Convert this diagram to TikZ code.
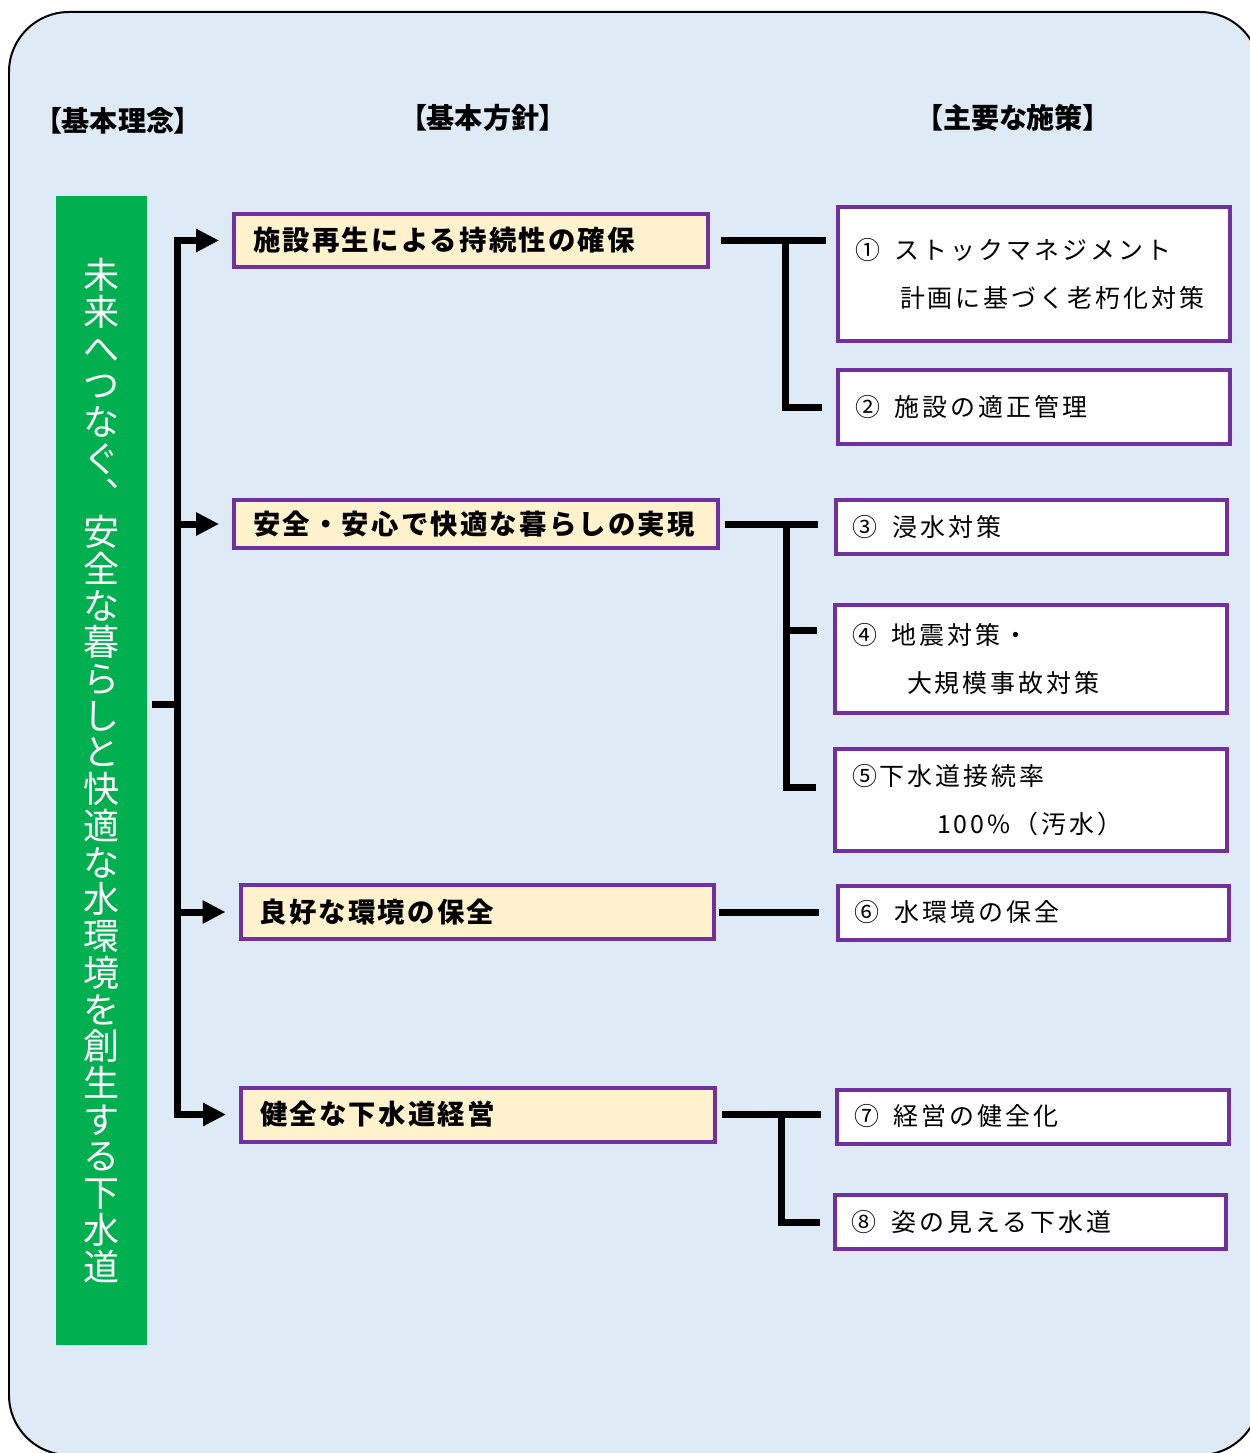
\documentclass[tikz,border=0pt]{standalone}
\usepackage{fontspec}
\setmainfont{Noto Sans CJK JP}
\usetikzlibrary{arrows.meta, calc}
\definecolor{panel}{HTML}{DEEAF6}
\definecolor{leaf}{HTML}{00B050}
\definecolor{cream}{HTML}{FFF2CC}
\definecolor{frame}{HTML}{7030A0}
\newcommand{\hdfont}{\bfseries\fontsize{16}{18}\selectfont\addfontfeatures{RawFeature=+palt}}
\newcommand{\polfont}{\bfseries\fontsize{15.6}{18}\selectfont\addfontfeatures{LetterSpace=8}}
\newcommand{\mesfont}{\fontsize{14.2}{27.3}\selectfont\addfontfeatures{LetterSpace=12}}
\newcommand{\ideafont}{\fontsize{20.5}{20.9}\selectfont}
\newcommand{\numgap}{\hspace{0.3cm}}

\begin{document}
\begin{tikzpicture}[x=0.02cm, y=-0.02cm,
    hd/.style={font=\hdfont, inner sep=0},
    idea/.style={fill=leaf, text=white, font=\ideafont, align=center, minimum width=1.82cm, minimum height=22.98cm, inner sep=0},
    policy/.style={draw=frame, line width=0.08cm, fill=cream, font=\polfont, align=left, text width=8.72cm, inner xsep=0.38cm, minimum height=1.08cm},
    measure/.style={draw=frame, line width=0.08cm, fill=white, font=\mesfont, align=left, text width=7.16cm, inner xsep=0.34cm, minimum height=1.08cm},
    link/.style={line width=0.14cm},
    arrow/.style={link, -{Triangle[length=0.46cm, width=0.44cm]}, shorten >=0.26cm}
]
    \useasboundingbox (0,0) rectangle (1250,1453);
    \clip (0,0) rectangle (1250,1453);
    \fill[white] (0,0) rectangle (1250,1453);
    \draw[line width=0.04cm, fill=panel, rounded corners=1.2cm] (9,12) rectangle (1260,1455);

    \node[hd] (h1) at (118,121) {【基本理念】};
    \node[hd] (h2) at (483,118) {【基本方針】};
    \node[hd] (h3) at (1013,118) {【主要な施策】};

    \node[idea] (idea) at (101.5,770.5) {未\\来\\へ\\つ\\な\\ぐ\\︑\\安\\全\\な\\暮\\ら\\し\\と\\快\\適\\な\\水\\環\\境\\を\\創\\生\\す\\る\\下\\水\\道};

    \node[policy] (p1) at (471,240.5) {施設再生による持続性の確保};
    \node[policy, text width=8.92cm, minimum height=0.96cm] (p2) at (476,524) {安全・安心で快適な暮らしの実現};
    \node[policy] (p3) at (477.5,912) {良好な環境の保全};
    \node[policy] (p4) at (478,1114.5) {健全な下水道経営};

    \node[measure, minimum height=2.68cm] (s1) at (1034,274) {①\numgap ストックマネジメント\\\hspace*{0.9cm}計画に基づく老朽化対策};
    \node[measure, minimum height=1.48cm] (s2) at (1034,407) {②\numgap 施設の適正管理};
    \node[measure] (s3) at (1031.5,527) {③\numgap 浸水対策};
    \node[measure, minimum height=2.16cm] (s4) at (1031,659) {④\numgap 地震対策・\\\hspace*{1.1cm}大規模事故対策};
    \node[measure, minimum height=2.04cm] (s5) at (1031,800) {⑤下水道接続率\\\hspace*{1.7cm}100\%（汚水）};
    \node[measure] (s6) at (1033.5,912.5) {⑥\numgap 水環境の保全};
    \node[measure] (s7) at (1033,1116.5) {⑦\numgap 経営の健全化};
    \node[measure] (s8) at (1030.5,1222) {⑧\numgap 姿の見える下水道};

    \coordinate (hub) at (177,704);
    \draw[link, shorten <=0.1cm] (idea.east |- hub) -- (hub);
    \foreach \p in {p1,p2,p3,p4}
        \draw[arrow] (hub) |- (\p.west);

    \coordinate (j1) at (785,240.5);
    \draw[link, shorten <=0.22cm, shorten >=0.2cm] (p1.east) -- (s1.west |- p1.east);
    \draw[link, shorten >=0.28cm] (j1) |- (s2.west);

    \coordinate (j2) at (786,524);
    \draw[link, shorten <=0.1cm, shorten >=0.32cm] (p2.east) -- (s3.west |- p2.east);
    \draw[link, shorten >=0.32cm] (j2) |- ($(s4.north west)+(0,27)$);
    \draw[link, shorten >=0.34cm] (j2) |- ($(s5.north west)+(0,40)$);

    \draw[link, shorten <=0.06cm, shorten >=0.34cm] (p3.east) -- (s6.west |- p3.east);

    \coordinate (j4) at (781,1114.5);
    \draw[link, shorten <=0.1cm, shorten >=0.28cm] (p4.east) -- (s7.west |- p4.east);
    \draw[link, shorten >=0.26cm] (j4) |- (s8.west);
\end{tikzpicture}
\end{document}
